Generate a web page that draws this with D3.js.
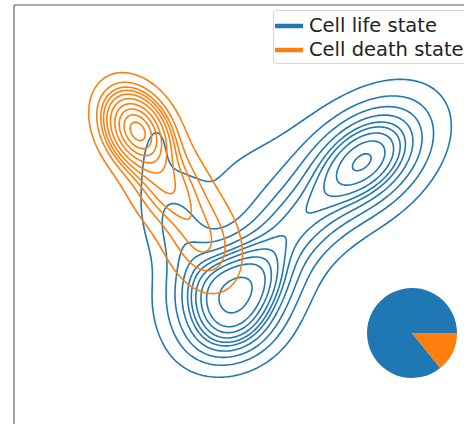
<!DOCTYPE html>
<html><head><meta charset="utf-8">
<script src="https://cdn.jsdelivr.net/npm/d3@7"></script>
<style>body{margin:0;background:#fff}svg{display:block}</style>
</head><body>
<script>
const W = 464, H = 424;
const xDomain = [0, 12];
const yDomain = [0, 10.5];
const groups = ["Cell life state", "Cell death state"];
const colors = ["#1f77b4", "#ff7f0e"];

// Density components (data units): centres, spreads, tilt, weight
const lifeCx    = [8.775, 6.95,  5.1,   5.9,   5.45,  4.15,  6.025, 3.525];
const lifeCy    = [6.625, 4.925, 3.25,  3.5,   2.35,  4.75,  6.25,  6.875];
const lifeSmaj  = [1.1,   1.0,   0.8,   0.8,   0.75,  1.0,   1.7,   0.625];
const lifeSmin  = [0.7,   0.65,  0.72,  0.65,  0.55,  0.5,   0.9,   0.25];
const lifeAngle = [40,    42,    40,    40,    20,    110,   25,    85];
const lifeW     = [0.34,  0.14,  0.17,  0.17,  0.08,  0.05,  0.06,  0.006];

const deathCx    = [3.075, 3.8,   4.7];
const deathCy    = [7.375, 6.05,  4.6];
const deathSmaj  = [0.6,   0.75,  0.8];
const deathSmin  = [0.42,  0.5,   0.55];
const deathAngle = [-60,   -60,   -68];
const deathW     = [0.6,   0.23,  0.17];

const levelProps = [0.05, 0.15, 0.25, 0.35, 0.45, 0.55, 0.65, 0.75, 0.85, 0.95];

const pieValues = [858, 142];

const svg = d3.select("body").append("svg").attr("width", W).attr("height", H);
const x = d3.scaleLinear().domain(xDomain).range([14, 494]);
const y = d3.scaleLinear().domain(yDomain).range([425, 5]);

function mixture(cx, cy, smaj, smin, ang, w) {
  return (px, py) => {
    let s = 0;
    for (let k = 0; k < cx.length; k++) {
      const t = ang[k] * Math.PI / 180;
      const dx = px - cx[k], dy = py - cy[k];
      const u = dx * Math.cos(t) + dy * Math.sin(t);
      const v = -dx * Math.sin(t) + dy * Math.cos(t);
      s += w[k] / (2 * Math.PI * smaj[k] * smin[k]) * Math.exp(-0.5 * (u * u / (smaj[k] * smaj[k]) + v * v / (smin[k] * smin[k])));
    }
    return s;
  };
}
const dens = [
  mixture(lifeCx, lifeCy, lifeSmaj, lifeSmin, lifeAngle, lifeW),
  mixture(deathCx, deathCy, deathSmaj, deathSmin, deathAngle, deathW)
];

const step = 2;
const nx = Math.ceil(W / step), ny = Math.ceil(H / step);
const proj = d3.geoPath(d3.geoTransform({ point(a, b) { this.stream.point(a * step, b * step); } }));

svg.append("clipPath").attr("id", "clip").append("rect")
  .attr("x", x(xDomain[0])).attr("y", y(yDomain[1])).attr("width", W).attr("height", H);

const plot = svg.append("g").attr("clip-path", "url(#clip)");

dens.forEach((f, gi) => {
  const values = new Float64Array(nx * ny);
  for (let j = 0; j < ny; j++) for (let i = 0; i < nx; i++) {
    values[i + j * nx] = f(x.invert((i + 0.5) * step), y.invert((j + 0.5) * step));
  }
  const sorted = Array.from(values).sort((a, b) => b - a);
  const total = d3.sum(sorted);
  let cum = 0; const cums = sorted.map(v => (cum += v) / total);
  const levels = levelProps.map(q => sorted[Math.min(sorted.length - 1, d3.bisectLeft(cums, 1 - q))]);
  const cs = d3.contours().size([nx, ny]).thresholds(levels)(values);
  plot.append("g").selectAll("path").data(cs).join("path")
    .attr("d", proj).attr("fill", "none").attr("stroke", colors[gi])
    .attr("stroke-width", 1.6).attr("stroke-linejoin", "round");
});

// pie
const pie = d3.pie().sort(null)
  .startAngle(Math.PI / 2 + 2 * Math.PI * pieValues[1] / d3.sum(pieValues))
  .endAngle(Math.PI / 2 + 2 * Math.PI * pieValues[1] / d3.sum(pieValues) + 2 * Math.PI);
const arc = d3.arc().innerRadius(0).outerRadius(45);
svg.append("g").attr("transform", "translate(412,333)")
  .selectAll("path").data(pie(pieValues)).join("path")
  .attr("d", arc).attr("fill", (d, i) => colors[i]);

// spines
svg.append("line").attr("x1", 14).attr("x2", 14).attr("y1", 5).attr("y2", H + 5)
  .attr("stroke", "#8c8c8c").attr("stroke-width", 1.6);
svg.append("line").attr("x1", 14).attr("x2", W + 5).attr("y1", 5).attr("y2", 5)
  .attr("stroke", "#8c8c8c").attr("stroke-width", 1.6);

// legend
const lg = svg.append("g");
lg.append("rect").attr("x", 273.5).attr("y", 10.5).attr("width", 230).attr("height", 53)
  .attr("rx", 3).attr("fill", "#fff").attr("fill-opacity", 0.8).attr("stroke", "#d6d6d6");
groups.forEach((g, i) => {
  const yy = 26 + i * 24;
  lg.append("line").attr("x1", 275).attr("x2", 303).attr("y1", yy).attr("y2", yy)
    .attr("stroke", colors[i]).attr("stroke-width", 4.5);
  lg.append("text").attr("x", 309).attr("y", yy + 5.5).text(g)
    .attr("font-family", "DejaVu Sans").attr("font-size", 19.5).attr("fill", "#222");
});
</script>
</body></html>
